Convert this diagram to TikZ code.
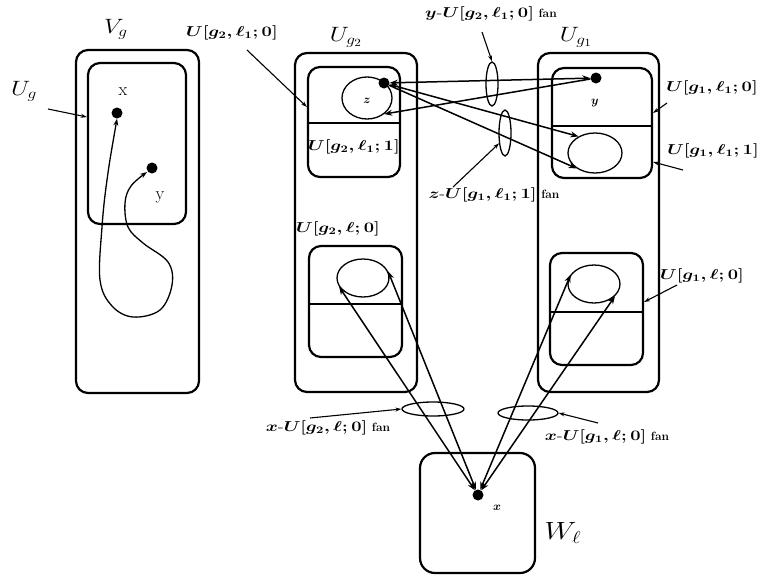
\documentclass[tikz,border=0pt]{standalone}
\usepackage{graphicx}
\usetikzlibrary{arrows.meta,shapes.geometric}
\newcommand\widemath[1]{\scalebox{1.27}[1]{\boldmath$#1$}}
\newcommand\bigmath[1]{\scalebox{1.2}[1]{$#1$}}
\begin{document}
\begin{tikzpicture}[x=1pt,y=-1pt,
  box/.style={draw,line width=2.2pt,rounded corners=12pt,inner sep=0pt},
  dot/.style={circle,fill,inner sep=0pt,minimum size=11pt},
  ell/.style={draw,ellipse,line width=1.3pt,inner sep=0pt},
  tip/.tip={Stealth[length=8pt,width=6pt]},
  con/.style={line width=1.5pt,-tip},
  dcon/.style={line width=1.5pt,tip-tip},
  lab/.style={font=\fontsize{14}{16}\selectfont, inner sep=0pt},
  big/.style={font=\fontsize{21}{24}\selectfont, inner sep=0pt},
  sm/.style={font=\fontsize{12}{14}\selectfont\boldmath, inner sep=0pt},
  ptr/.style={line width=1.1pt,-{Stealth[length=6pt,width=4pt]}},
  divider/.style={line width=2pt},
]
\useasboundingbox (0,0) rectangle (760,576);

% ---------- V_g ----------
\node[box,minimum width=123pt,minimum height=343pt] (Vg) at (137.5,221.5) {};
\node[box,minimum width=98pt,minimum height=161pt] (Ug) at (137,143.5) {};
\node[big] (VgL) at (116,29) {\bigmath{V_g}};
\node[big] (UgL) at (24,91) {\bigmath{U_g}};
\coordinate (UgS) at (48,109);
\draw[ptr] (UgS) -- (Ug.west |- 0,117);
\node[dot] (xV) at (117,113) {};
\node[dot] (yV) at (152,168) {};
\node[font=\fontsize{18}{20}\selectfont,inner sep=0pt] (xVL) at (123,92) {x};
\node[font=\fontsize{18}{20}\selectfont,inner sep=0pt] (yVL) at (160,197) {y};
\draw[line width=1.3pt,{Stealth[length=7pt,width=5pt]}-{Stealth[length=7pt,width=5pt]}]
  plot[smooth,tension=0.6] coordinates {(xV.south) (107,180) (102,227) (100,280) (112,306) (133,317) (160,310) (172,285) (168,262) (143,243) (128,227) (125,203) (131,186) (147,172)};

% ---------- U_g2 ----------
\node[box,minimum width=122pt,minimum height=339pt] (Ug2) at (356,222.5) {};
\node[big] (Ug2L) at (346,37) {\bigmath{U_{g_2}}};
\node[box,minimum width=92pt,minimum height=110pt] (B21) at (354,122) {};
\draw[divider] (B21.west |- 0,123) -- (B21.east |- 0,123);
\node[ell,minimum width=50pt,minimum height=42pt] (ez) at (367,98) {};
\node[sm] (zL) at (367,101) {$z$};
\node[dot] (z) at (384,83) {};
\node[lab] (L210) at (232,33) {\widemath{U[g_2,\ell_1;0]}};
\coordinate (L210s) at (247,50);
\draw[ptr] (L210s) -- (B21.west |- 0,107);
\node[lab] (L211) at (354,147) {\widemath{U[g_2,\ell_1;1]}};

\node[box,minimum width=93pt,minimum height=111pt] (B2l) at (355.5,301.5) {};
\draw[divider] (B2l.west |- 0,304) -- (B2l.east |- 0,304);
\node[ell,minimum width=52pt,minimum height=38pt] (e2) at (363,278) {};
\node[lab] (L2l) at (338,229) {\widemath{U[g_2,\ell;0]}};

% ---------- U_g1 ----------
\node[box,minimum width=121pt,minimum height=339pt] (Ug1) at (598.5,222.5) {};
\node[big] (Ug1L) at (576,37) {\bigmath{U_{g_1}}};
\node[box,minimum width=100pt,minimum height=110pt] (B11) at (602,123) {};
\draw[divider] (B11.west |- 0,126) -- (B11.east |- 0,126);
\node[dot] (y) at (596,78) {};
\node[sm] (yL) at (595,103) {$y$};
\node[ell,minimum width=54pt,minimum height=40pt] (e1) at (595,153) {};
\node[lab] (L110) at (712,88) {\widemath{U[g_1,\ell_1;0]}};
\coordinate (L110s) at (667,103);
\draw[ptr] (L110s) -- (B11.east |- 0,113);
\node[lab] (L111) at (713,151) {\widemath{U[g_1,\ell_1;1]}};
\coordinate (L111s) at (683,170);
\draw[ptr] (L111s) -- (B11.east |- 0,162);

\node[box,minimum width=93pt,minimum height=112pt] (B1l) at (596.5,309) {};
\draw[divider] (B1l.west |- 0,312) -- (B1l.east |- 0,312);
\node[ell,minimum width=52pt,minimum height=38pt] (e3) at (594,284) {};
\node[lab] (L1l) at (702,276) {\widemath{U[g_1,\ell;0]}};
\coordinate (L1ls) at (677,285);
\draw[ptr] (L1ls) -- (B1l.east |- 0,302);

% ---------- W_l ----------
\node[box,rounded corners=15pt,minimum width=115pt,minimum height=120pt] (W) at (477.5,513) {};
\node[big,font=\fontsize{23}{26}\selectfont] (WL) at (563,533) {\bigmath{W_\ell}};
\node[dot] (x) at (478,495) {};
\node[sm] (xL) at (497,508) {$x$};

% ---------- fans ----------
\node[ell,minimum width=12pt,minimum height=44pt] (f1) at (492,84) {};
\node[ell,minimum width=12pt,minimum height=46pt] (f2) at (505,133) {};
\node[ell,minimum width=62pt,minimum height=14pt] (f3) at (433,409) {};
\node[ell,minimum width=60pt,minimum height=14pt] (f4) at (528,413) {};

\node[lab] (F1L) at (491,14) {\widemath{y\mbox{-}U[g_2,\ell_1;0]}\ {\fontsize{12}{14}\selectfont\bfseries fan}};
\coordinate (F1s) at (482,32);
\draw[ptr] (F1s) -- (f1.north);
\node[lab] (F2L) at (494,195) {\widemath{z\mbox{-}U[g_1,\ell_1;1]}\ {\fontsize{12}{14}\selectfont\bfseries fan}};
\coordinate (F2s) at (453,187);
\draw[ptr] (F2s) -- (f2.-120);
\node[lab] (F3L) at (328,428) {\widemath{x\mbox{-}U[g_2,\ell;0]}\ {\fontsize{12}{14}\selectfont\bfseries fan}};
\coordinate (F3s) at (310,418);
\draw[ptr] (F3s) -- (f3.west);
\node[lab] (F4L) at (607,437) {\widemath{x\mbox{-}U[g_1,\ell;0]}\ {\fontsize{12}{14}\selectfont\bfseries fan}};
\coordinate (F4s) at (598,423);
\draw[ptr] (F4s) -- (f4.east);

% ---------- connectors ----------
\draw[dcon] (z) -- (y);
\draw[con] (y) -- (ez.-43);
\draw[dcon] (z) -- (e1.135);
\draw[con] (z) -- (e1.-140);

\draw[dcon] (x) -- (e2.200);
\draw[dcon] (x) -- (e2.15);
\draw[dcon] (x) -- (e3.158);
\draw[dcon] (x) -- (e3.-30);
\end{tikzpicture}
\end{document}
